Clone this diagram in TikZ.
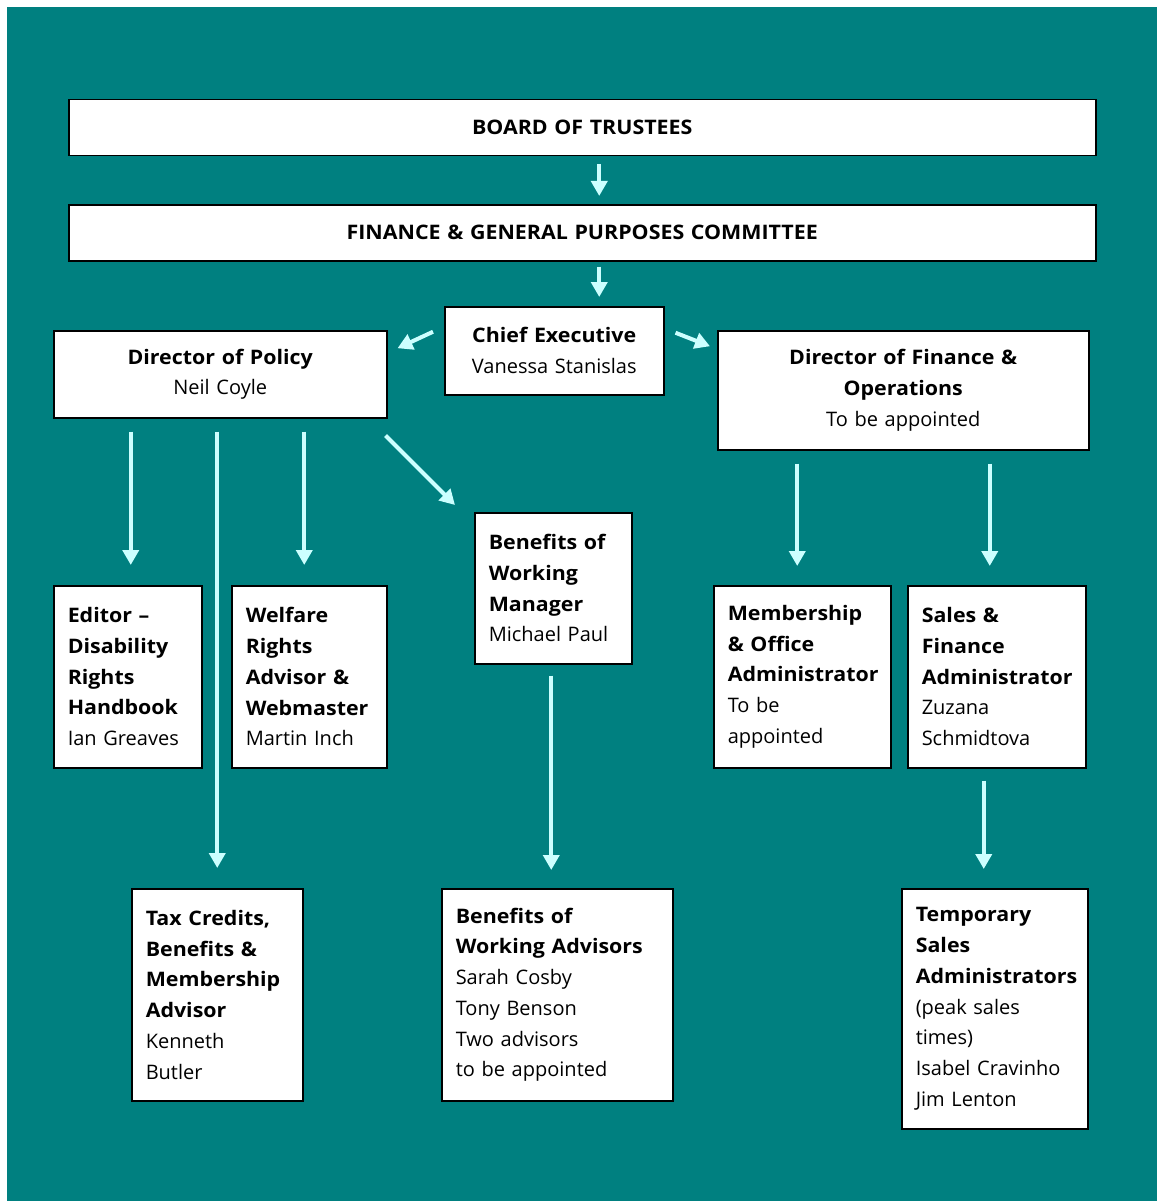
\documentclass[tikz,border=0pt]{standalone}
\usepackage{fontspec}
\setmainfont{Open Sans}[BoldFeatures={FakeStretch=1.07}]
\usepackage{tikz}
\usetikzlibrary{arrows.meta}
\definecolor{bgteal}{RGB}{0,128,128}
\definecolor{arrcyan}{RGB}{204,255,255}

\begin{document}
\begin{tikzpicture}
	[x=1pt, y=-1pt,
	main/.style = {draw, line width=1.5pt, fill=white, anchor=north west, inner xsep=14pt, inner ysep=0pt, font=\fontsize{20}{30.7}\selectfont},
	arr/.style = {draw=arrcyan, line width=4pt, -{Triangle[length=15pt,width=16pt]}}]
	\useasboundingbox (0,0) rectangle (1157,1201);
	\fill[bgteal] (7,7) rectangle (1157,1201);
	\node[main, text width=999pt, minimum height=56pt, align=center] (1) at (68,99) {\textbf{BOARD OF TRUSTEES}};
	\node[main, text width=999pt, minimum height=56pt, align=center] (2) at (68,204) {\textbf{FINANCE \& GENERAL PURPOSES COMMITTEE}};
	\node[main, text width=191pt, minimum height=88pt, align=center] (3) at (444,306) {\textbf{Chief Executive}\\Vanessa Stanislas};
	\node[main, text width=305pt, minimum height=87pt, align=center] (4) at (53,330) {\textbf{Director of Policy}\\Neil Coyle};
	\node[main, text width=343pt, minimum height=119pt, align=center] (5) at (717,330) {\textbf{Director of Finance \&}\\\textbf{Operations}\\To be appointed};
	\node[main, text width=129pt, minimum height=151pt, align=left] (6) at (474,512) {\textbf{Benefits of}\\\textbf{Working}\\\textbf{Manager}\\Michael Paul};
	\node[main, text width=120pt, minimum height=182pt, align=left] (7) at (53,585) {\textbf{Editor --}\\\textbf{Disability}\\\textbf{Rights}\\\textbf{Handbook}\\Ian Greaves};
	\node[main, text width=127pt, minimum height=182pt, align=left] (8) at (231,585) {\textbf{Welfare}\\\textbf{Rights}\\\textbf{Advisor \&}\\\textbf{Webmaster}\\Martin Inch};
	\node[main, text width=149pt, minimum height=182pt, align=left] (9) at (713,585) {\textbf{Membership}\\\textbf{\& Office}\\\textbf{Administrator}\\To be\\appointed};
	\node[main, text width=150pt, minimum height=182pt, align=left] (10) at (907,585) {\textbf{Sales \&}\\\textbf{Finance}\\\textbf{Administrator}\\Zuzana\\Schmidtova};
	\node[main, text width=143pt, minimum height=212pt, align=left] (11) at (131,888) {\textbf{Tax Credits,}\\\textbf{Benefits \&}\\\textbf{Membership}\\\textbf{Advisor}\\Kenneth\\Butler};
	\node[main, text width=203pt, minimum height=212pt, align=left] (12) at (441,888) {\textbf{Benefits of}\\\textbf{Working Advisors}\\Sarah Cosby\\Tony Benson\\Two advisors\\to be appointed};
	\node[main, text width=158pt, minimum height=240pt, align=left] (13) at (901,888) {\textbf{Temporary}\\\textbf{Sales}\\\textbf{Administrators}\\(peak sales\\times)\\Isabel Cravinho\\Jim Lenton};
	\draw[arr, shorten <=8pt, shorten >=8pt] ([xshift=17pt]1.south) -- ([xshift=17pt]2.north);
	\draw[arr, shorten <=5pt, shorten >=9pt] ([xshift=17pt]2.south) -- ([xshift=17pt]2.south |- 3.north);
	\draw[arr] ([xshift=-11pt, yshift=19pt]3.west) -- ([xshift=10pt, yshift=26pt]4.east);
	\draw[arr] ([xshift=11pt, yshift=18pt]3.east) -- ([xshift=-7pt, yshift=44pt]5.west);
	\draw[arr, shorten <=13pt, shorten >=20pt] ([xshift=3pt]7.north |- 4.south) -- ([xshift=3pt]7.north);
	\draw[arr, shorten <=13pt, shorten >=20pt] (11.north |- 4.south) -- (11.north);
	\draw[arr, shorten <=13pt, shorten >=20pt] ([xshift=-5pt]8.north |- 4.south) -- ([xshift=-5pt]8.north);
	\draw[arr] ([xshift=-2pt, yshift=-17pt]4.south east) -- ([xshift=-19pt, yshift=7pt]6.north west);
	\draw[arr, shorten <=11pt, shorten >=18pt] ([xshift=-2pt]6.south) -- ([xshift=-2pt]6.south |- 12.north);
	\draw[arr, shorten <=13pt, shorten >=19pt] ([xshift=-5pt]9.north |- 5.south) -- ([xshift=-5pt]9.north);
	\draw[arr, shorten <=13pt, shorten >=19pt] ([xshift=-7pt]10.north |- 5.south) -- ([xshift=-7pt]10.north);
	\draw[arr, shorten <=12pt, shorten >=19pt] ([xshift=-13pt]10.south) -- ([xshift=-13pt]10.south |- 13.north);
\end{tikzpicture}
\end{document}
